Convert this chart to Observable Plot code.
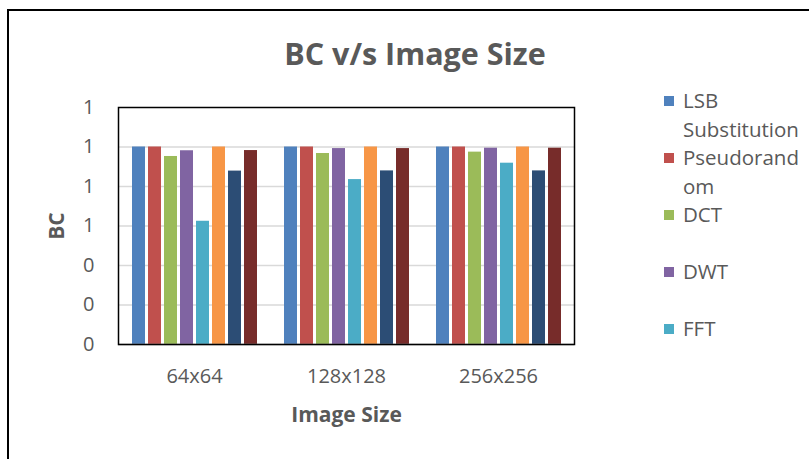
<!DOCTYPE html>
<html>
<head>
<meta charset="utf-8">
<script src="https://cdn.jsdelivr.net/npm/d3@7"></script>
<script src="https://cdn.jsdelivr.net/npm/@observablehq/plot@0.6"></script>
<style>
  html, body { margin: 0; padding: 0; background: #fff; }
  #chart {
    position: relative; width: 809px; height: 459px; overflow: hidden;
    font-family: "Open Sans", sans-serif; color: #595959;
  }
  #border {
    position: absolute; left: 7px; top: 9px; width: 900px; height: 600px;
    border: 2px solid #000; box-sizing: border-box;
  }
  #title {
    position: absolute; left: 0; top: 38px; width: 830px; text-align: center;
    font-size: 30.5px; line-height: 1; font-weight: 700; color: #595959;
  }
  #plot { position: absolute; left: 0; top: 0; }
  #plot svg text { fill: #595959; font-family: "Open Sans", sans-serif; }
  #plot g[aria-label="y-axis tick label"] text,
  #plot g[aria-label="fx-axis tick label"] text { font-size: 20px; }
  #plot g[aria-label="y-axis label"] text,
  #plot g[aria-label="fx-axis label"] text { font-size: 21px; font-weight: 700; }
  #legend {
    position: absolute; left: 664px; top: 86px; width: 145px;
  }
  .item { display: flex; align-items: flex-start; height: 57px; }
  .swatch { width: 10px; height: 10px; margin-top: 10px; flex: none; }
  .name {
    margin-left: 9px; width: 124px; font-size: 20.5px; line-height: 28.5px;
    overflow-wrap: anywhere; color: #595959;
  }
</style>
</head>
<body>
<div id="chart">
  <div id="border"></div>
  <div id="title">BC v/s Image Size</div>
  <div id="plot"></div>
  <div id="legend"></div>
</div>
<script>
// Image sizes on the x axis
const categories = ["64x64", "128x128", "256x256"];

// Embedding methods, one bar each per image size
const methods = ["LSB Substitution", "Pseudorandom", "DCT", "DWT", "FFT", "SVD", "IWT", "Hybrid"];
const methodColors = ["#4F81BD", "#C0504D", "#9BBB59", "#8064A2", "#4BACC6", "#F79646", "#2C4D75", "#772C2A"];

// BC values per method, in the order of categories
const lsbSubstitution = [1.0, 1.0, 1.0];
const pseudorandom = [1.0, 1.0, 1.0];
const dct = [0.952, 0.967, 0.974];
const dwt = [0.981, 0.992, 0.994];
const fft = [0.624, 0.835, 0.918];
const svd = [1.0, 1.0, 1.0];
const iwt = [0.878, 0.879, 0.879];
const hybrid = [0.982, 0.992, 0.994];

// Y axis ticks (labels shown rounded to whole numbers)
const yTicks = [0, 0.2, 0.4, 0.6, 0.8, 1.0, 1.2];

const seriesValues = [lsbSubstitution, pseudorandom, dct, dwt, fft, svd, iwt, hybrid];
const rows = methods.flatMap((m, i) =>
  categories.map((c, j) => ({ size: c, method: m, bc: seriesValues[i][j] }))
);

const chart = Plot.plot({
  width: 600,
  height: 450,
  marginLeft: 117,
  marginRight: 25,
  marginTop: 107,
  marginBottom: 106,
  style: { background: "none", overflow: "visible" },
  fx: { domain: categories, padding: 0 },
  x: { domain: methods, paddingInner: 0.21, paddingOuter: 0.85, axis: null },
  y: { domain: [0, 1.2] },
  color: { domain: methods, range: methodColors },
  marks: [
    Plot.ruleY(yTicks.slice(1, -1), { stroke: "#d9d9d9", strokeWidth: 1.5 }),
    Plot.barY(rows, { fx: "size", x: "method", y: "bc", fill: "method" }),
    Plot.ruleY([0], { stroke: "#a6a6a6", strokeWidth: 1.5 }),
    Plot.frame({ stroke: "#000", strokeWidth: 1.5, facet: "super" }),
    Plot.axisY({
      ticks: yTicks, tickFormat: d3.format(".0f"), tickSize: 0, tickPadding: 24,
      label: "BC", labelAnchor: "center", labelArrow: "none", labelOffset: 69
    }),
    Plot.axisFx({
      anchor: "bottom", tickSize: 0, tickPadding: 24,
      label: "Image Size", labelAnchor: "center", labelArrow: "none", labelOffset: 77
    })
  ]
});
document.getElementById("plot").appendChild(chart);

// Legend to the right of the plot: only as many entries as fit in its box
const legendRoom = 5;
const legend = d3.select("#legend");
methods.slice(0, legendRoom).forEach((m, i) => {
  const item = legend.append("div").attr("class", "item");
  item.append("div").attr("class", "swatch").style("background", methodColors[i]);
  item.append("div").attr("class", "name").text(m);
});
</script>
</body>
</html>
